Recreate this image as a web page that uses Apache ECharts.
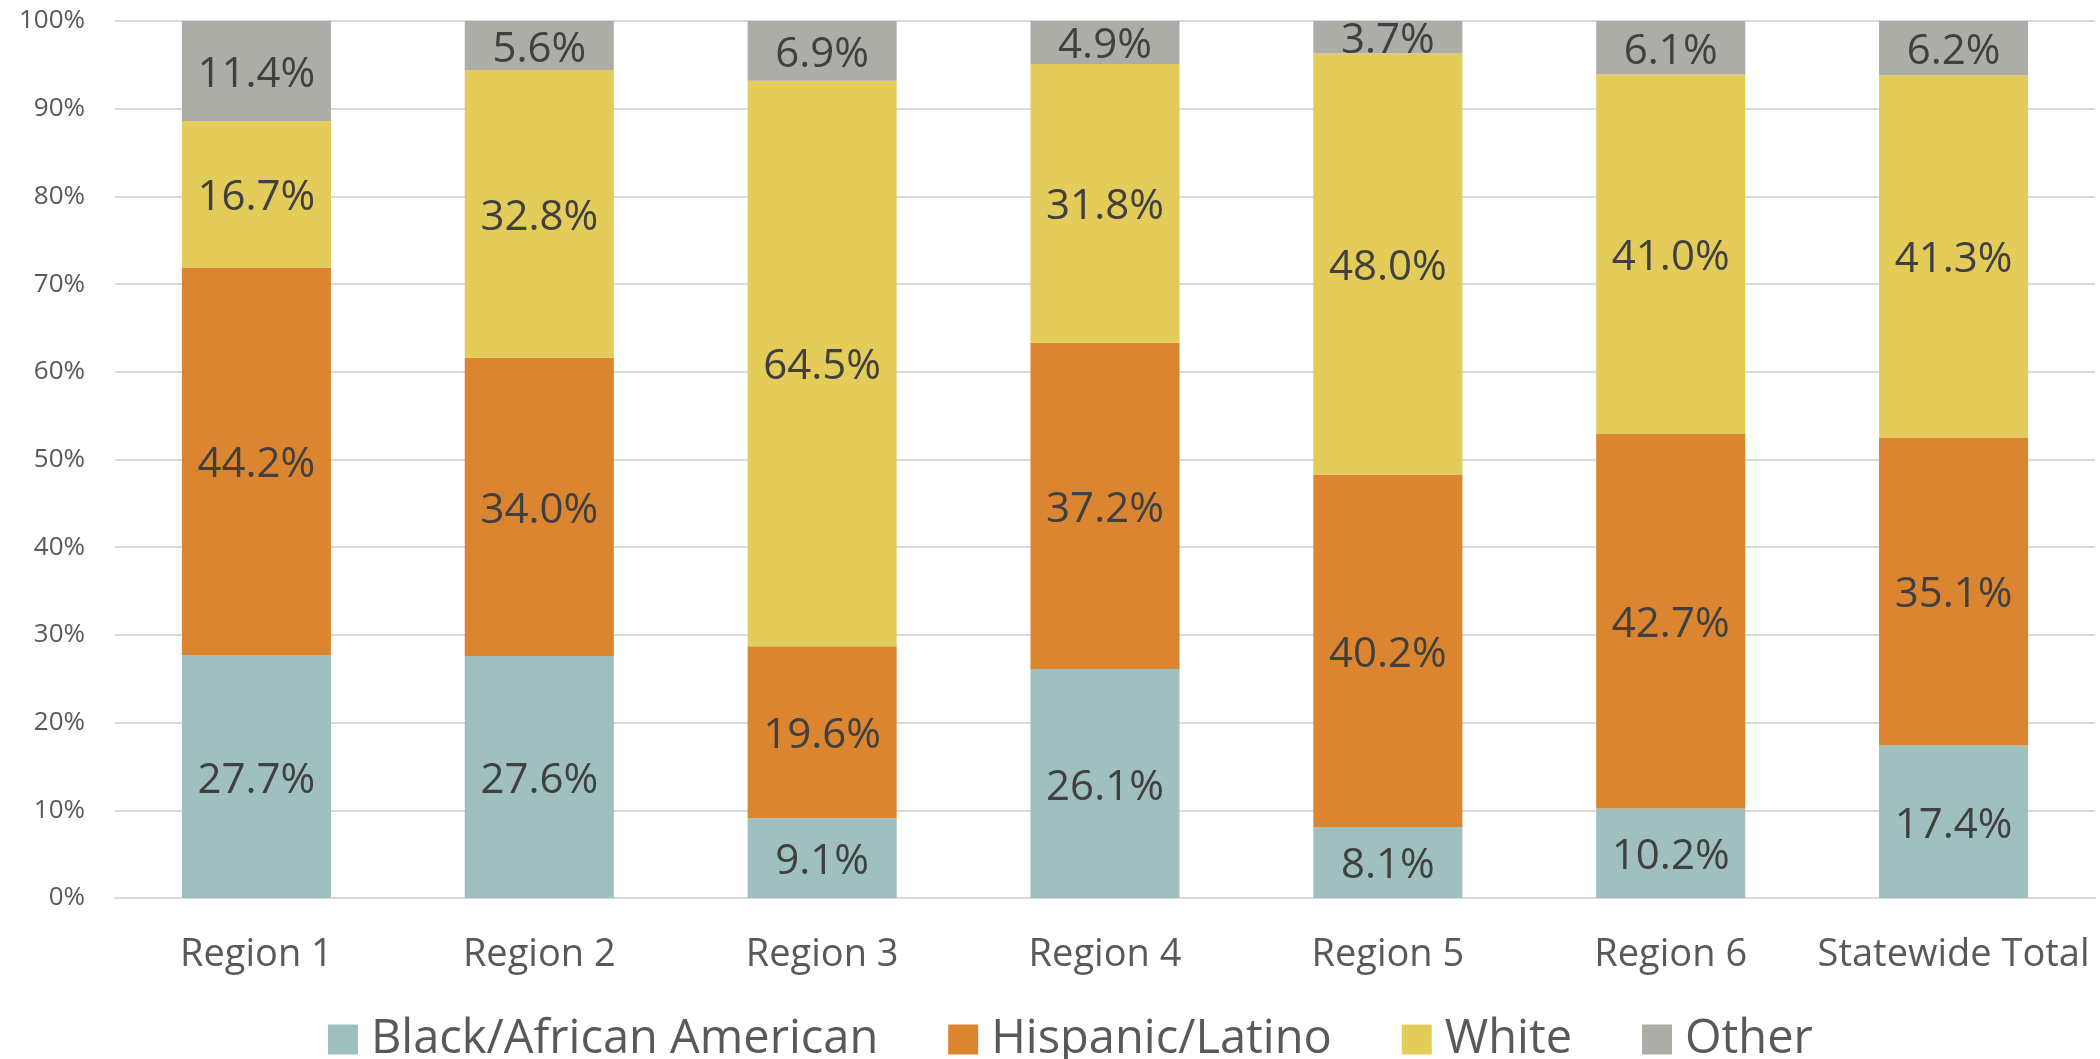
<!DOCTYPE html>
<html>
<head>
<meta charset="utf-8">
<style>
html, body { margin: 0; padding: 0; background: #fff; }
#chart-panel { width: 2100px; height: 1059px; }
</style>
<script src="https://cdn.jsdelivr.net/npm/echarts@6/dist/echarts.min.js"></script>
</head>
<body>
<div id="chart-panel"></div>
<script type="text/javascript">
var regions = ['Region 1', 'Region 2', 'Region 3', 'Region 4', 'Region 5', 'Region 6', 'Statewide Total'];
var black = [27.7, 27.6, 9.1, 26.1, 8.1, 10.2, 17.4];
var hispanic = [44.2, 34.0, 19.6, 37.2, 40.2, 42.7, 35.1];
var white = [16.7, 32.8, 64.5, 31.8, 48.0, 41.0, 41.3];
var other = [11.4, 5.6, 6.9, 4.9, 3.7, 6.1, 6.2];

var font = '"Open Sans", "Noto Sans", sans-serif';

function seg(name, data, color) {
    return {
        name: name,
        type: 'bar',
        stack: 'total',
        barWidth: '52.7%',
        data: data,
        itemStyle: { color: color },
        label: {
            show: true,
            position: 'inside',
            offset: [0, 4],
            color: '#404040',
            fontFamily: font,
            fontSize: 42,
            formatter: function (p) { return p.value.toFixed(1) + '%'; }
        },
        emphasis: { disabled: true }
    };
}

var myChart = echarts.init(document.getElementById('chart-panel'));
var option = {
    animation: false,
    textStyle: { fontFamily: font },
    grid: { left: 115, right: 5, top: 21, bottom: 161, containLabel: false },
    legend: {
        left: 323,
        top: 1011,
        itemWidth: 30,
        itemHeight: 30,
        itemGap: 70,
        icon: 'rect',
        textStyle: { color: '#595959', fontSize: 47, fontFamily: font, padding: [0, 0, 0, 8] },
        data: ['Black/African American', 'Hispanic/Latino', 'White', 'Other']
    },
    xAxis: {
        type: 'category',
        data: regions,
        axisLine: { show: true, lineStyle: { color: '#d9d9d9', width: 2 } },
        axisTick: { show: false },
        axisLabel: { color: '#595959', fontSize: 38, fontFamily: font, margin: 38, interval: 0 }
    },
    yAxis: {
        type: 'value',
        min: 0,
        max: 100,
        interval: 10,
        axisLine: { show: false },
        axisTick: { show: false },
        splitLine: { lineStyle: { color: '#d9d9d9', width: 2 } },
        axisLabel: { color: '#595959', fontSize: 26, fontFamily: font, margin: 30, formatter: '{value}%' }
    },
    series: [
        seg('Black/African American', black, '#9fc0be'),
        seg('Hispanic/Latino', hispanic, '#dc8530'),
        seg('White', white, '#e3cc5a'),
        seg('Other', other, '#adada8')
    ]
};
myChart.setOption(option);
</script>
</body>
</html>
